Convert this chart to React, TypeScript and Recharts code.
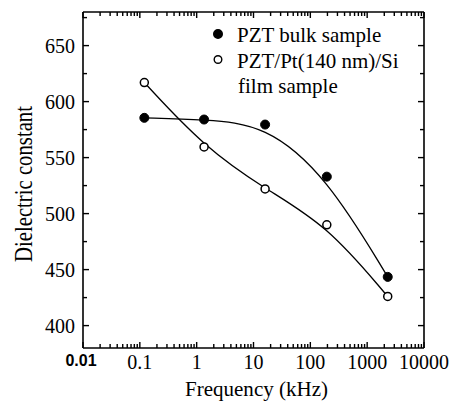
import { LineChart, Line, XAxis, YAxis, Legend, Label, ReferenceLine } from "recharts";

// frequency in kHz, shared by both samples
const freq = [0.12, 1.35, 16, 195, 2300];
const bulk = [585.5, 584, 579.5, 533, 443.5];
const film = [617, 559.5, 522, 490, 426];

const xMajor = [0.01, 0.1, 1, 10, 100, 1000, 10000];
const xLabels = ["0.01", "0.1", "1", "10", "100", "1000", "10000"];
const yMajor = [400, 450, 500, 550, 600, 650];
const yMinor = [425, 475, 525, 575, 625, 675];

const xMinor: number[] = [];
for (let d = 0; d < xMajor.length - 1; d++) {
  for (let m = 2; m <= 9; m++) xMinor.push(xMajor[d] * m);
}
const xTicks = [...xMajor, ...xMinor].sort((a, b) => a - b);
const yTicks = [...yMajor, ...yMinor].sort((a, b) => a - b);

const series = [
  { key: "bulk", name: "PZT bulk sample", lines: ["PZT bulk sample"], filled: true },
  {
    key: "film",
    name: "PZT/Pt(140 nm)/Si film sample",
    lines: ["PZT/Pt(140 nm)/Si", "film sample"],
    filled: false,
  },
];

const data = freq.map((f, i) => ({ freq: f, bulk: bulk[i], film: film[i] }));

const W = 452;
const H = 402;
const M = { top: 12, right: 28, bottom: 0, left: 0 };
const X_AXIS_H = 54;
const Y_AXIS_W = 83;
const plot = {
  left: M.left + Y_AXIS_W,
  right: W - M.right,
  top: M.top,
  bottom: H - M.bottom - X_AXIS_H,
};

const serif = "'Liberation Serif', 'Times New Roman', serif";
const ink = "#000";

// ticks point inwards on all four sides, labels only on bottom/left
const renderBottomTick = (props: any) => {
  const x = Number(props.x);
  const { payload, index } = props;
  const i = xMajor.indexOf(payload.value);
  const major = i >= 0;
  const len = major ? 6 : 4;
  return (
    <g key={`xt-${index}`}>
      <rect x={x - 0.7} y={plot.bottom - len} width={1.4} height={len} fill={ink} />
      <rect x={x - 0.7} y={plot.top} width={1.4} height={len} fill={ink} />
      {major && i === 0 && (
        <text
          x={x - 2}
          y={plot.bottom + 18}
          textAnchor="middle"
          fontFamily="'Liberation Sans', Arial, sans-serif"
          fontWeight="bold"
          fontSize={16}
          fill={ink}
        >
          {xLabels[i]}
        </text>
      )}
      {major && i > 0 && (
        <text x={x} y={plot.bottom + 21} textAnchor="middle" fontFamily={serif} fontSize={20} fill={ink}>
          {xLabels[i]}
        </text>
      )}
    </g>
  );
};

const renderLeftTick = (props: any) => {
  const y = Number(props.y);
  const { payload, index } = props;
  const major = yMajor.indexOf(payload.value) >= 0;
  const len = major ? 6 : 4;
  return (
    <g key={`yt-${index}`}>
      <rect x={plot.left} y={y - 0.7} width={len} height={1.4} fill={ink} />
      <rect x={plot.right - len} y={y - 0.7} width={len} height={1.4} fill={ink} />
      {major && (
        <text x={plot.left - 8} y={y} dy="0.35em" textAnchor="end" fontFamily={serif} fontSize={20} fill={ink}>
          {payload.value}
        </text>
      )}
    </g>
  );
};

function LegendBox(props: any) {
  const items = props.payload || [];
  let row = 0;
  return (
    <svg width={240} height={90}>
      {items.map((item: any, idx: number) => {
        const s = series.find((d) => d.name === item.value) || series[idx];
        const base = 27 + row * 25.5;
        row += s.lines.length;
        return (
          <g key={s.key}>
            <circle
              cx={18}
              cy={base - 8}
              r={s.filled ? 4.3 : 3.8}
              fill={s.filled ? ink : "#fff"}
              stroke={ink}
              strokeWidth={1.4}
            />
            {s.lines.map((t, j) => (
              <text key={t} x={j === 0 ? 37 : 38} y={base + j * 25.5} fontFamily={serif} fontSize={21} fill={ink}>
                {t}
              </text>
            ))}
          </g>
        );
      })}
    </svg>
  );
}

export default function App() {
  return (
    <div style={{ position: "absolute", left: 0, top: 0, width: W, height: H, background: "#fff" }}>
      <LineChart width={W} height={H} data={data} margin={M}>
        <XAxis
          dataKey="freq"
          type="number"
          scale="log"
          domain={[0.01, 10000]}
          allowDataOverflow
          ticks={xTicks}
          interval={0}
          height={X_AXIS_H}
          tickSize={0}
          tickMargin={0}
          tickLine={false}
          tick={renderBottomTick}
          axisLine={{ stroke: ink, strokeWidth: 1.6 }}
        >
          <Label
            content={(p: any) => {
              const vb = p.viewBox;
              return (
                <text
                  x={vb.x + vb.width / 2 + 3}
                  y={H - 6}
                  textAnchor="middle"
                  fontFamily={serif}
                  fontSize={22}
                  textLength={143}
                  lengthAdjust="spacingAndGlyphs"
                  fill={ink}
                >
                  Frequency (kHz)
                </text>
              );
            }}
          />
        </XAxis>
        <YAxis
          type="number"
          domain={[380, 680]}
          allowDataOverflow
          ticks={yTicks}
          interval={0}
          width={Y_AXIS_W}
          tickSize={0}
          tickMargin={0}
          tickLine={false}
          tick={renderLeftTick}
          axisLine={{ stroke: ink, strokeWidth: 1.6 }}
        >
          <Label
            content={() => {
              const cx = 32;
              const cy = (plot.top + plot.bottom) / 2 + 4;
              return (
                <text
                  x={cx}
                  y={cy}
                  transform={`rotate(-90, ${cx}, ${cy})`}
                  textAnchor="middle"
                  fontFamily={serif}
                  fontSize={25}
                  textLength={156}
                  lengthAdjust="spacingAndGlyphs"
                  fill={ink}
                >
                  Dielectric constant
                </text>
              );
            }}
          />
        </YAxis>
        <ReferenceLine y={680} stroke={ink} strokeWidth={1.6} ifOverflow="visible" />
        <ReferenceLine x={10000} stroke={ink} strokeWidth={1.6} ifOverflow="visible" />
        <Legend
          layout="vertical"
          align="center"
          verticalAlign="middle"
          wrapperStyle={{ left: 200, top: 15, width: 240, height: 90 }}
          content={<LegendBox />}
        />
        <Line
          type="basis"
          dataKey="bulk"
          name={series[0].name}
          stroke={ink}
          strokeWidth={1.3}
          dot={{ r: 4.5, fill: ink, stroke: ink, strokeWidth: 1 }}
          isAnimationActive={false}
        />
        <Line
          type="basis"
          dataKey="film"
          name={series[1].name}
          stroke={ink}
          strokeWidth={1.3}
          dot={{ r: 4, fill: "#fff", stroke: ink, strokeWidth: 1.5 }}
          isAnimationActive={false}
        />
      </LineChart>
    </div>
  );
}
